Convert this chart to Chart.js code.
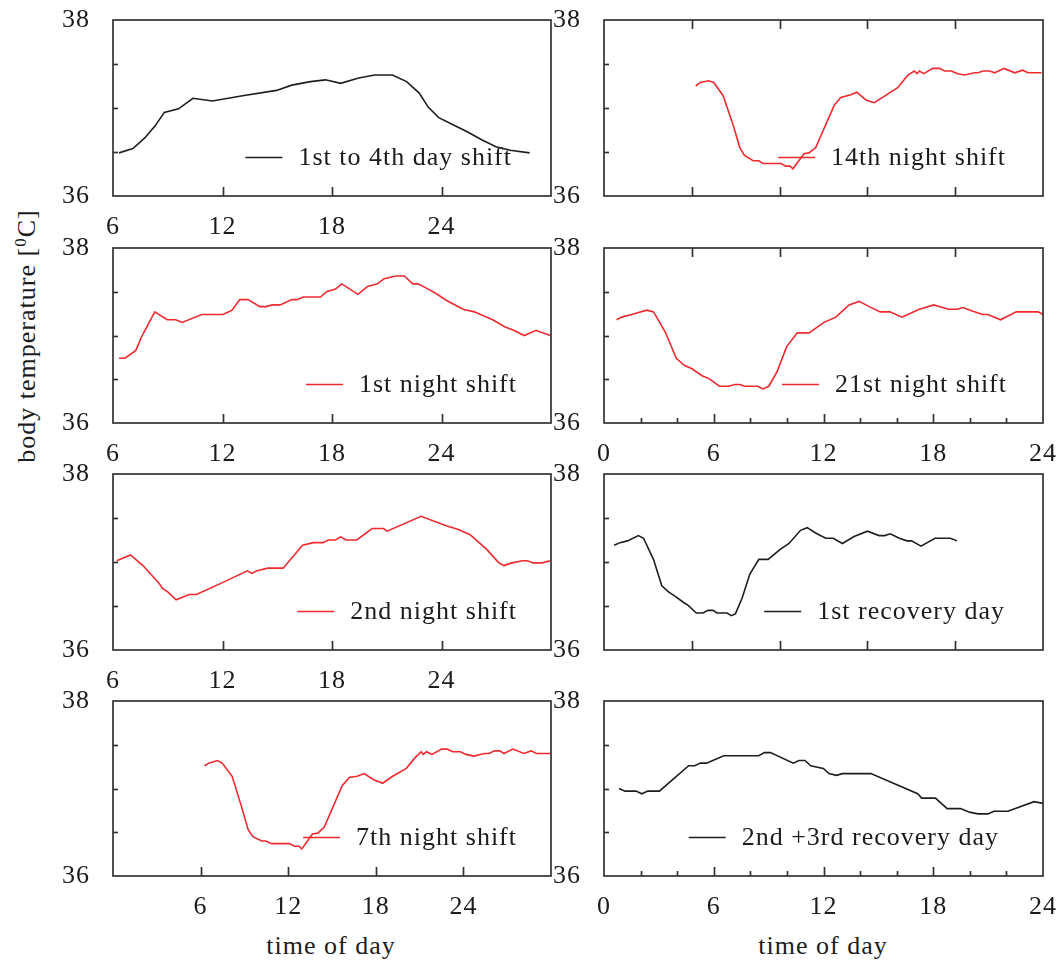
<!DOCTYPE html>
<html>
<head>
<meta charset="utf-8">
<title>Body temperature across shifts</title>
<script src="https://cdn.jsdelivr.net/npm/chart.js@4/dist/chart.umd.min.js"></script>
<style>
  html, body { margin: 0; padding: 0; background: #fff; }
  #fig { position: relative; width: 1064px; height: 964px; overflow: hidden; background: #fff; }
  #fig canvas { position: absolute; left: 0; top: 0; }
  .lbl {
    position: absolute;
    font-family: "Liberation Serif", "Times New Roman", serif;
    font-size: 26px;
    color: #1c1c1c;
    letter-spacing: 1px;
    white-space: nowrap;
    line-height: 1;
  }
  .lbl sup { font-size: 17px; vertical-align: 0; position: relative; top: -9px; }
  #ytitle { left: 27px; top: 336px; transform: translate(-50%, -50%) rotate(-90deg); }
  #xtitleL { left: 331px; top: 946px; transform: translate(-50%, -50%); }
  #xtitleR { left: 823px; top: 946px; transform: translate(-50%, -50%); }
</style>
</head>
<body>
<div id="fig">
  <div class="lbl" id="ytitle">body temperature [<sup>0</sup>C]</div>
  <div class="lbl" id="xtitleL">time of day</div>
  <div class="lbl" id="xtitleR">time of day</div>
</div>
<script>
// ---- measured series: hour of day vs. body temperature (°C) ----
const dayShiftHours = [6.33,7.09,7.74,8.32,8.81,9.59,10.38,11.45,13.1,14.96,15.8,16.82,17.64,18.48,19.46,20.34,21.31,22.09,22.78,23.27,23.85,24.63,25.41,26.2,26.98,27.76,28.83];
const dayShiftTemp  = [36.49,36.54,36.66,36.80,36.95,36.99,37.11,37.08,37.14,37.20,37.26,37.30,37.32,37.28,37.34,37.375,37.375,37.30,37.17,37.01,36.89,36.81,36.73,36.64,36.56,36.52,36.49];

const night1Hours = [6.33,6.66,7.25,7.6,8.29,8.97,9.44,9.79,10.86,12.03,12.52,12.95,13.4,14.05,14.38,14.73,15.16,15.8,16.08,16.43,17.37,17.7,18.19,18.54,19.42,19.95,20.49,20.86,21.51,21.96,22.43,22.72,23.27,23.7,24.28,25.18,25.8,26.8,27.46,27.95,28.54,29.18,29.96];
const night1Temp  = [36.74,36.74,36.83,37.0,37.27,37.18,37.18,37.15,37.24,37.24,37.29,37.41,37.41,37.33,37.33,37.35,37.35,37.41,37.41,37.44,37.44,37.5,37.53,37.59,37.47,37.56,37.59,37.65,37.68,37.68,37.59,37.59,37.53,37.48,37.4,37.3,37.27,37.18,37.1,37.06,37.0,37.06,37.0];

const night2Hours = [6.2,6.96,7.64,8.52,8.71,9.0,9.46,10.18,10.57,11.94,13.36,13.6,13.89,14.48,15.32,16.39,16.98,17.5,17.8,18.19,18.48,18.77,19.36,20.2,20.82,21.02,22.88,24.3,24.93,25.57,26.49,27.14,27.43,27.86,28.45,28.7,29.03,29.52,29.95];
const night2Temp  = [37.015,37.08,36.96,36.76,36.70,36.66,36.57,36.63,36.63,36.76,36.90,36.87,36.90,36.93,36.93,37.19,37.22,37.22,37.25,37.25,37.285,37.25,37.25,37.38,37.38,37.35,37.52,37.41,37.37,37.31,37.14,36.99,36.96,36.99,37.015,37.015,36.99,36.99,37.015];

const night7Hours = [6.26,6.57,7.14,7.48,8.16,8.77,9.26,9.58,10.19,10.48,10.85,12.07,12.44,12.73,12.93,13.66,14.03,14.47,15.69,16.18,16.72,17.2,17.86,18.47,19.16,20.09,20.68,21.11,21.24,21.48,21.85,22.51,22.9,23.26,23.8,24.17,24.73,25.44,25.76,26.12,26.49,26.78,27.39,28.15,28.64,29.01,29.98];
const night7Temp  = [37.26,37.29,37.32,37.29,37.14,36.81,36.53,36.45,36.40,36.40,36.37,36.37,36.34,36.34,36.31,36.48,36.49,36.56,37.03,37.125,37.14,37.17,37.10,37.06,37.14,37.23,37.35,37.42,37.39,37.42,37.39,37.45,37.45,37.42,37.42,37.39,37.37,37.40,37.40,37.43,37.43,37.40,37.45,37.40,37.43,37.40,37.40];

const night14Hours = [6.27,6.58,7.15,7.5,8.14,8.82,9.28,9.6,10.19,10.58,10.86,12.11,12.41,12.71,12.91,13.67,14.01,14.47,15.73,16.18,16.87,17.28,17.9,18.47,20.07,20.75,21.21,21.39,21.55,21.85,22.47,22.93,23.27,23.73,24.18,24.64,25.33,25.56,25.9,26.35,26.7,27.34,28.07,28.6,28.98,29.9];
const night14Temp  = [37.25,37.29,37.31,37.29,37.14,36.81,36.55,36.46,36.40,36.40,36.37,36.37,36.34,36.34,36.31,36.48,36.49,36.55,37.03,37.12,37.15,37.18,37.09,37.06,37.23,37.37,37.42,37.39,37.42,37.39,37.45,37.45,37.42,37.42,37.39,37.375,37.40,37.40,37.42,37.42,37.40,37.45,37.40,37.43,37.40,37.40];

const night21Hours = [0.69,0.97,1.52,2.34,2.71,3.35,3.95,4.39,4.81,5.36,5.72,6.31,6.82,7.15,7.42,7.7,8.41,8.68,9.01,9.47,9.98,10.57,11.21,12.03,12.67,13.4,13.95,14.5,15.1,15.63,16.29,17.24,18.03,18.83,19.31,19.62,20.13,20.71,20.99,21.68,22.54,23.73,24.0];
const night21Temp  = [37.18,37.21,37.24,37.29,37.27,37.04,36.74,36.66,36.62,36.54,36.51,36.42,36.42,36.44,36.44,36.42,36.42,36.39,36.42,36.59,36.87,37.03,37.03,37.15,37.21,37.35,37.39,37.33,37.27,37.27,37.21,37.30,37.35,37.30,37.30,37.32,37.28,37.24,37.24,37.18,37.27,37.27,37.24];

const recovery1Hours = [0.69,1.1,1.6,2.35,2.7,3.38,3.95,4.41,4.87,5.44,5.73,6.31,6.76,7.11,7.45,7.72,8.41,8.7,8.98,9.44,9.96,10.58,11.22,12.02,12.64,13.43,13.89,14.46,15.15,15.67,16.29,17.09,18.0,18.8,19.19,19.56,20.18,20.7,21.02,21.66,22.62,23.67,24.13];
const recovery1Temp  = [37.19,37.22,37.24,37.30,37.27,37.03,36.73,36.66,36.61,36.54,36.51,36.42,36.42,36.45,36.45,36.42,36.42,36.39,36.41,36.59,36.86,37.03,37.03,37.14,37.21,37.36,37.39,37.33,37.27,37.27,37.21,37.29,37.35,37.30,37.30,37.32,37.27,37.24,37.24,37.18,37.27,37.27,37.24];

const recovery23Hours = [0.82,1.15,1.75,2.07,2.39,3.03,3.8,4.63,4.96,5.27,5.6,6.55,8.46,8.77,9.1,10.35,10.66,10.99,11.3,11.99,12.3,12.71,13.03,14.59,17.15,17.37,18.12,18.76,19.49,19.98,20.44,20.99,21.32,22.08,23.51,24.0];
const recovery23Temp  = [37.0,36.97,36.97,36.94,36.97,36.97,37.11,37.26,37.26,37.29,37.29,37.375,37.375,37.41,37.41,37.29,37.32,37.32,37.26,37.23,37.17,37.15,37.17,37.17,36.94,36.89,36.89,36.77,36.77,36.73,36.71,36.71,36.74,36.74,36.85,36.83];

// ---- tick values ----
const yTickLabels = [36, 38];
const yMinorTicks = [36.5, 37, 37.5];
const dayTickLabels = [6, 12, 18, 24];        // 6..30 h axes
const clockTickLabels = [0, 6, 12, 18, 24];   // 0..24 h axes
const sixHourMarks = [6, 12, 18, 24];
const clockMajorMarks = [6, 12, 18];
const clockMinorMarks = [2, 4, 8, 10, 14, 16, 20, 22];

// ---- drawing ----
const SERIF = '"Liberation Serif", "Times New Roman", serif';
Chart.defaults.font.family = SERIF;
Chart.defaults.font.size = 26;
Chart.defaults.color = '#1c1c1c';

const RED = '#ee2a2f';
const BLACK = '#1e1e1e';
const W = 1064, H = 964;
const colLeft = [113, 604], colRight = [551, 1043];
const rowTop = [20, 248, 474, 701], rowBottom = [196, 423, 650, 876];
const Y_AXIS_W = 50, X_AXIS_H = 60;

// axes keep a fixed size and ask for no extra room around the plot
function fixAxis(size) {
  return s => {
    if (s.isHorizontal()) s.height = size; else s.width = size;
    s.paddingTop = 0; s.paddingBottom = 0; s.paddingLeft = 0; s.paddingRight = 0;
  };
}

// frame, inward tick marks and the in-plot key
const framePlugin = {
  id: 'frame',
  beforeDraw(chart) {
    chart.ctx.letterSpacing = '1px';
  },
  afterDatasetsDraw(chart, args, opts) {
    const ctx = chart.ctx, a = chart.chartArea;
    ctx.save();
    ctx.strokeStyle = '#333';
    ctx.lineWidth = 1.7;
    ctx.lineCap = 'butt';
    for (const m of opts.marks) {
      const s = chart.scales[m.scale];
      for (const v of m.values) {
        const p = Math.round(s.getPixelForValue(v)) + 0.5;
        ctx.beginPath();
        if (m.side === 'bottom') { ctx.moveTo(p, a.bottom); ctx.lineTo(p, a.bottom - m.len); }
        else if (m.side === 'top') { ctx.moveTo(p, a.top); ctx.lineTo(p, a.top + m.len); }
        else { ctx.moveTo(a.left, p); ctx.lineTo(a.left + m.len, p); }
        ctx.stroke();
      }
    }
    ctx.strokeRect(a.left, a.top, a.right - a.left, a.bottom - a.top);

    // key: sample line followed by the series name, right-aligned
    const ds = chart.data.datasets[0];
    ctx.font = '26px ' + SERIF;
    ctx.letterSpacing = '1px';
    const tw = ctx.measureText(ds.label).width;
    const textLeft = opts.keyRight - tw;
    const ky = a.bottom - 39;
    ctx.strokeStyle = ds.borderColor;
    ctx.lineWidth = 1.6;
    ctx.beginPath();
    ctx.moveTo(textLeft - 53, ky + 0.5);
    ctx.lineTo(textLeft - 16, ky + 0.5);
    ctx.stroke();
    ctx.fillStyle = '#1c1c1c';
    ctx.textBaseline = 'middle';
    ctx.textAlign = 'left';
    ctx.fillText(ds.label, textLeft, ky + 1);
    ctx.restore();
  }
};

const panels = [
  { col: 0, row: 0, name: '1st to 4th day shift', hours: dayShiftHours, temps: dayShiftTemp, color: BLACK,
    xMin: 6, xMax: 30, labels: dayTickLabels, keyRight: 512,
    marks: [{ scale: 'x', side: 'bottom', values: [12, 18, 24], len: 9 }] },
  { col: 1, row: 0, name: '14th night shift', hours: night14Hours, temps: night14Temp, color: RED,
    xMin: 0, xMax: 30, labels: null, keyRight: 1006,
    marks: [{ scale: 'x', side: 'bottom', values: sixHourMarks, len: 9 },
            { scale: 'x', side: 'top', values: sixHourMarks, len: 9 }] },
  { col: 0, row: 1, name: '1st night shift', hours: night1Hours, temps: night1Temp, color: RED,
    xMin: 6, xMax: 30, labels: dayTickLabels, keyRight: 517,
    marks: [{ scale: 'x', side: 'bottom', values: [12, 18, 24], len: 9 }] },
  { col: 1, row: 1, name: '21st night shift', hours: night21Hours, temps: night21Temp, color: RED,
    xMin: 0, xMax: 24, labels: clockTickLabels, keyRight: 1007, topScale: true,
    marks: [{ scale: 'x', side: 'bottom', values: clockMajorMarks, len: 9 },
            { scale: 'x', side: 'bottom', values: clockMinorMarks, len: 5 },
            { scale: 'x2', side: 'top', values: sixHourMarks, len: 9 }] },
  { col: 0, row: 2, name: '2nd night shift', hours: night2Hours, temps: night2Temp, color: RED,
    xMin: 6, xMax: 30, labels: dayTickLabels, keyRight: 517,
    marks: [{ scale: 'x', side: 'bottom', values: [12, 18, 24], len: 9 }] },
  { col: 1, row: 2, name: '1st recovery day', hours: recovery1Hours, temps: recovery1Temp, color: BLACK,
    xMin: 0, xMax: 30, labels: null, keyRight: 1005,
    marks: [{ scale: 'x', side: 'bottom', values: sixHourMarks, len: 9 }] },
  { col: 0, row: 3, name: '7th night shift', hours: night7Hours, temps: night7Temp, color: RED,
    xMin: 0, xMax: 30, labels: dayTickLabels, keyRight: 517,
    marks: [{ scale: 'x', side: 'bottom', values: sixHourMarks, len: 9 }] },
  { col: 1, row: 3, name: '2nd +3rd recovery day', hours: recovery23Hours, temps: recovery23Temp, color: BLACK,
    xMin: 0, xMax: 24, labels: clockTickLabels, keyRight: 999,
    marks: [{ scale: 'x', side: 'bottom', values: clockMajorMarks, len: 9 },
            { scale: 'x', side: 'bottom', values: clockMinorMarks, len: 5 }] }
];

const fig = document.getElementById('fig');

for (const p of panels) {
  const canvas = document.createElement('canvas');
  canvas.width = W; canvas.height = H;
  canvas.style.width = W + 'px'; canvas.style.height = H + 'px';
  fig.appendChild(canvas);

  const left = colLeft[p.col], right = colRight[p.col];
  const top = rowTop[p.row], bottom = rowBottom[p.row];
  const xLabels = p.labels || [p.xMin];

  const scales = {
    x: {
      type: 'linear', position: 'bottom', min: p.xMin, max: p.xMax,
      grid: { display: false, drawTicks: false },
      border: { display: false },
      afterBuildTicks: s => { s.ticks = xLabels.map(v => ({ value: v })); },
      afterFit: fixAxis(X_AXIS_H),
      ticks: { display: !!p.labels, padding: 16, autoSkip: false, maxRotation: 0, minRotation: 0,
               callback: v => String(v) }
    },
    y: {
      type: 'linear', position: 'left', min: 36, max: 38,
      grid: { display: false, drawTicks: false },
      border: { display: false },
      afterBuildTicks: s => { s.ticks = yTickLabels.map(v => ({ value: v })); },
      afterFit: fixAxis(Y_AXIS_W),
      ticks: { padding: 23, callback: v => String(v) }
    }
  };
  if (p.topScale) {
    scales.x2 = { type: 'linear', position: 'top', min: 0, max: 30, display: false };
  }

  const marks = p.marks.concat([{ scale: 'y', side: 'left', values: yMinorTicks, len: 5 }]);

  new Chart(canvas, {
    type: 'line',
    data: {
      datasets: [{
        label: p.name,
        data: p.hours.map((h, i) => ({ x: h, y: p.temps[i] })),
        borderColor: p.color,
        borderWidth: 1.6,
        pointRadius: 0,
        fill: false,
        tension: 0
      }]
    },
    options: {
      responsive: false,
      animation: false,
      devicePixelRatio: 1,
      events: [],
      layout: { padding: { left: left - Y_AXIS_W, right: W - right, top: top, bottom: H - bottom - X_AXIS_H } },
      scales,
      plugins: {
        legend: { display: false },
        tooltip: { enabled: false },
        frame: { marks, keyRight: p.keyRight }
      }
    },
    plugins: [framePlugin]
  });
}
</script>
</body>
</html>
